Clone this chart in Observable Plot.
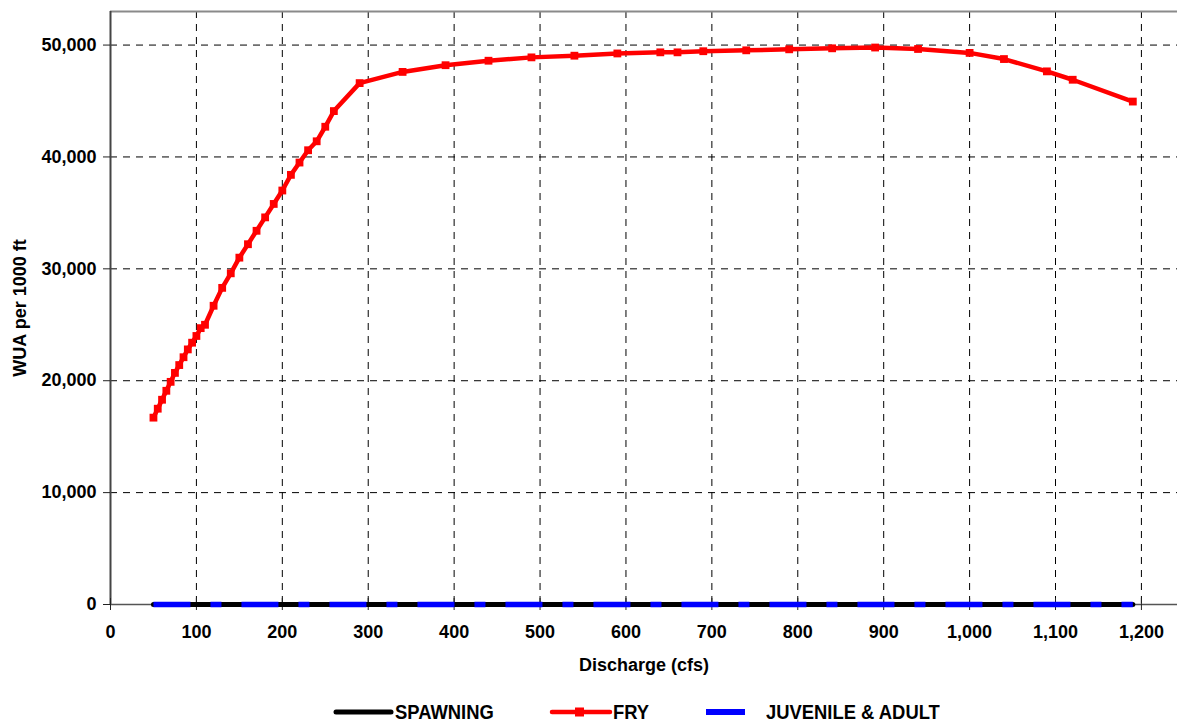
<!DOCTYPE html>
<html>
<head>
<meta charset="utf-8">
<script src="https://cdn.jsdelivr.net/npm/d3@7"></script>
<script src="https://cdn.jsdelivr.net/npm/@observablehq/plot@0.6"></script>
<style>
  html, body { margin: 0; padding: 0; background: #fff; }
  #wrap { position: relative; width: 1177px; height: 723px; overflow: hidden; font-family: "Liberation Sans", Arial, sans-serif; }
  #legend { position: absolute; left: 0; top: 0; width: 1177px; height: 723px; pointer-events: none; }
  .lt { position: absolute; top: 700px; font-size: 20px; font-weight: bold; color: #000; transform: scaleX(0.92); transform-origin: left center; white-space: nowrap; line-height: 24px; }
</style>
</head>
<body>
<div id="wrap">
  <div id="chart"></div>
  <svg id="legend" width="1177" height="723"></svg>
  <div class="lt" style="left:395px">SPAWNING</div>
  <div class="lt" style="left:613px">FRY</div>
  <div class="lt" style="left:766px">JUVENILE &amp; ADULT</div>
</div>
<script>
// ---- data ----
const discharge = [50,55,60,65,70,75,80,85,90,95,100,105,110,120,130,140,150,160,170,180,190,200,210,220,230,240,250,260,290,340,390,440,490,540,590,640,660,690,740,790,840,890,940,1000,1040,1090,1120,1190];
const fryWUA = [16700,17500,18300,19100,19900,20700,21400,22100,22800,23400,24000,24700,25000,26700,28300,29600,31000,32200,33400,34600,35800,37000,38400,39500,40600,41400,42700,44100,46600,47600,48200,48600,48900,49050,49250,49350,49350,49450,49530,49620,49710,49780,49650,49300,48750,47650,46900,44950];
const spawningWUA = discharge.map(() => 0);
const juvAdultWUA = discharge.map(() => 0);
const xTicks = [0,100,200,300,400,500,600,700,800,900,1000,1100,1200];
const yTicks = [0,10000,20000,30000,40000,50000];
const xDomain = [0, 1242];
const yDomain = [0, 53000];
const seriesNames = ["SPAWNING", "FRY", "JUVENILE & ADULT"];

const fry = discharge.map((q, i) => ({q, v: fryWUA[i]}));
const spawn = discharge.map((q, i) => ({q, v: spawningWUA[i]}));
const juv = discharge.map((q, i) => ({q, v: juvAdultWUA[i]}));

const fmt = d3.format(",");
const chart = Plot.plot({
  width: 1177,
  height: 685,
  marginLeft: 110,
  marginRight: 0,
  marginTop: 11,
  marginBottom: 81,
  style: {fontFamily: "'Liberation Sans', Arial, sans-serif", fontSize: "18px", fontWeight: "bold", color: "#000", background: "#fff", overflow: "visible"},
  x: {domain: xDomain},
  y: {domain: yDomain},
  marks: [
    Plot.gridX(xTicks.filter(d => d > 0), {stroke: "#000", strokeOpacity: 1, strokeDasharray: "7,6", strokeWidth: 1}),
    Plot.gridY(yTicks.filter(d => d > 0), {stroke: "#000", strokeOpacity: 1, strokeDasharray: "7,6", strokeWidth: 1}),
    Plot.ruleY([yDomain[1]], {stroke: "#8a8a8a", strokeWidth: 2}),
    Plot.ruleY([0], {stroke: "#555", strokeWidth: 1.5}),
    Plot.ruleX([0], {stroke: "#444", strokeWidth: 2}),
    Plot.axisX(xTicks, {tickSize: 12, dy: -6, tickFormat: () => "", label: null, stroke: "#222"}),
    Plot.axisX(xTicks, {tickSize: 0, tickPadding: 21, tickFormat: fmt, label: "Discharge (cfs)", labelAnchor: "center", labelArrow: "none", labelOffset: 66}),
    Plot.axisY(yTicks, {tickSize: 7, tickPadding: 7, tickFormat: fmt, label: "WUA per 1000 ft", labelAnchor: "center", labelArrow: "none", labelOffset: 97, stroke: "#222"}),
    Plot.line(spawn, {x: "q", y: "v", stroke: "#000", strokeWidth: 5, strokeLinecap: "round"}),
    Plot.line(juv, {x: "q", y: "v", stroke: "#0000ff", strokeWidth: 5.5, strokeDasharray: "37,20,11,20", strokeLinecap: "butt"}),
    Plot.line(fry, {x: "q", y: "v", stroke: "#ff0000", strokeWidth: 4.5, strokeLinejoin: "round"}),
    Plot.dot(fry, {x: "q", y: "v", symbol: "square", r: 4.4, fill: "#ff0000", stroke: "none"})
  ]
});
document.getElementById("chart").appendChild(chart);

// legend swatches
const lg = d3.select("#legend");
const ly = 712;
lg.append("line").attr("x1", 336).attr("x2", 391).attr("y1", ly).attr("y2", ly).attr("stroke", "#000").attr("stroke-width", 5).attr("stroke-linecap", "round");
lg.append("line").attr("x1", 552).attr("x2", 610).attr("y1", ly).attr("y2", ly).attr("stroke", "#ff0000").attr("stroke-width", 4.5).attr("stroke-linecap", "round");
lg.append("rect").attr("x", 575).attr("y", ly - 4.5).attr("width", 9).attr("height", 9).attr("fill", "#ff0000");
lg.append("line").attr("x1", 706).attr("x2", 745).attr("y1", ly).attr("y2", ly).attr("stroke", "#0000ff").attr("stroke-width", 6);
</script>
</body>
</html>
